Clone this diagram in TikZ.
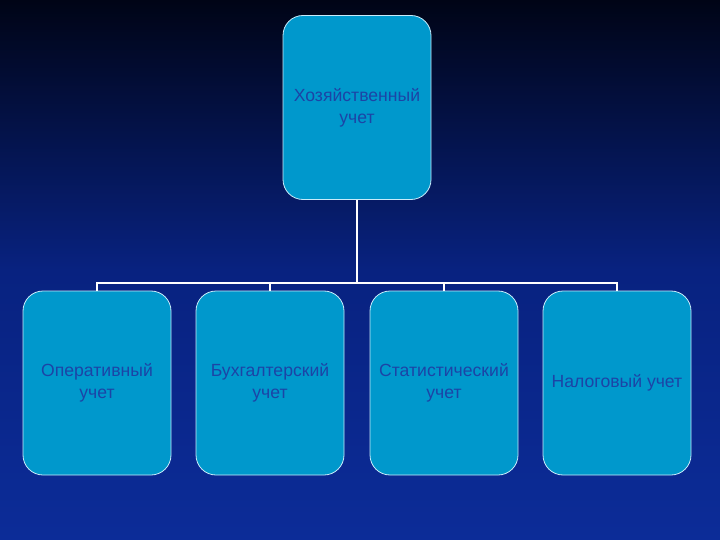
\documentclass[tikz,border=0pt]{standalone}
\usepackage{fontspec}
\setmainfont{Liberation Sans}
\definecolor{bgtop}{RGB}{0,4,22}
\definecolor{bgmid}{RGB}{8,34,128}
\definecolor{bgbot}{RGB}{12,44,152}
\definecolor{boxfill}{RGB}{0,152,204}
\definecolor{boxtext}{RGB}{28,68,166}
\definecolor{boxline}{RGB}{200,235,250}
\begin{document}
\begin{tikzpicture}[x=1pt,y=-1pt,
  box/.style={draw=boxline, line width=0.8pt, fill=boxfill, rounded corners=20pt,
    minimum width=148pt, minimum height=184pt, inner sep=0pt, align=center,
    text=boxtext, font=\fontsize{17.6}{22}\selectfont},
  link/.style={draw=white, line width=1.8pt}]
\shade[top color=bgtop, bottom color=bgbot, middle color=bgmid, shading angle=0] (0,0) rectangle (720,540);
\useasboundingbox (0,0) rectangle (720,540);
\node[box] (top) at (357,107.5) {Хозяйственный\\учет};
\node[box] (b1) at (97,383) {Оперативный\\учет};
\node[box] (b2) at (270,383) {Бухгалтерский\\учет};
\node[box] (b3) at (444,383) {Статистический\\учет};
\node[box] (b4) at (617,383) {Налоговый учет};
\coordinate (hub) at (357,283);
\draw[link] (top.south) -- (hub);
\draw[link] (b1.north) -- ++(0,-8) -| (b4.north);
\draw[link] (b2.north) -- ++(0,-8);
\draw[link] (b3.north) -- ++(0,-8);
\end{tikzpicture}
\end{document}
